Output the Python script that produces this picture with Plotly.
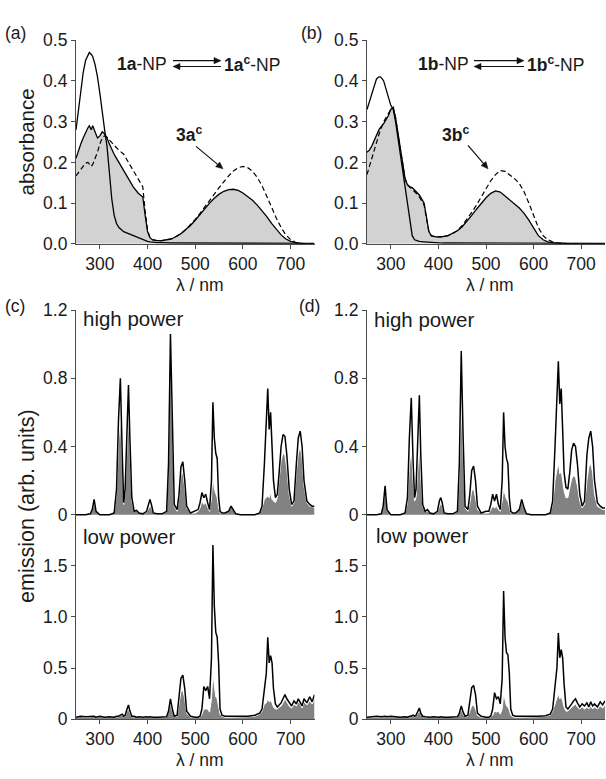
import math
import plotly.graph_objects as go

W, H = 606, 779

# ---------------- absorbance data ----------------
ab_nm = [250, 255, 260, 265, 270, 275, 278, 282, 285, 290, 295, 300, 305, 310, 315, 320, 325, 330, 335, 340,
         345, 350, 360, 370, 380, 385, 390, 395, 400, 405, 410, 420, 430, 440, 450, 460, 470, 480, 490, 500,
         510, 520, 530, 540, 550, 560, 570, 580, 590, 600, 610, 620, 630, 640, 650, 660, 670, 680, 690, 700,
         710, 720, 730, 740, 750]

a_open = [0.28, 0.33, 0.38, 0.42, 0.45, 0.465, 0.47, 0.465, 0.46, 0.44, 0.41, 0.37, 0.32, 0.28, 0.24, 0.18, 0.11, 0.07, 0.05, 0.04,
          0.035, 0.03, 0.025, 0.02, 0.015, 0.012, 0.01, 0.008, 0.006, 0.005, 0.004, 0.003, 0.003, 0.002, 0.002, 0.002, 0.002, 0.002, 0.002, 0.002,
          0.002, 0.002, 0.002, 0.002, 0.002, 0.002, 0.002, 0.002, 0.002, 0.002, 0.002, 0.002, 0.002, 0.002, 0.001, 0.001, 0.001, 0.001, 0.001, 0.001,
          0.001, 0.001, 0.001, 0.001, 0.001]
a_closed = [0.21, 0.23, 0.245, 0.26, 0.275, 0.285, 0.29, 0.28, 0.29, 0.275, 0.26, 0.265, 0.275, 0.27, 0.26, 0.245, 0.23, 0.22, 0.21, 0.2,
            0.19, 0.18, 0.16, 0.14, 0.125, 0.12, 0.115, 0.07, 0.03, 0.015, 0.01, 0.008, 0.008, 0.01, 0.012, 0.018, 0.025, 0.035, 0.045, 0.058,
            0.072, 0.087, 0.1, 0.112, 0.122, 0.129, 0.133, 0.134, 0.131, 0.125, 0.117, 0.107, 0.095, 0.082, 0.067, 0.05, 0.035, 0.022, 0.012, 0.006,
            0.003, 0.001, 0.0, 0.0, 0.0]
a_ref = [0.167, 0.175, 0.183, 0.19, 0.198, 0.2, 0.195, 0.19, 0.195, 0.21, 0.225, 0.245, 0.26, 0.265, 0.262, 0.255, 0.248, 0.242, 0.236, 0.23,
         0.225, 0.22, 0.2, 0.18, 0.16, 0.15, 0.14, 0.08, 0.035, 0.015, 0.01, 0.008, 0.008, 0.01, 0.012, 0.018, 0.025, 0.035, 0.047, 0.06,
         0.075, 0.09, 0.106, 0.122, 0.138, 0.153, 0.167, 0.179, 0.187, 0.19, 0.187, 0.178, 0.163, 0.143, 0.118, 0.09, 0.063, 0.04, 0.022, 0.01,
         0.004, 0.001, 0.0, 0.0, 0.0]

b_open = [0.33, 0.35, 0.37, 0.39, 0.405, 0.41, 0.41, 0.405, 0.4, 0.38, 0.36, 0.34, 0.33, 0.3, 0.26, 0.22, 0.18, 0.15, 0.11, 0.06,
          0.02, 0.01, 0.006, 0.005, 0.004, 0.003, 0.003, 0.003, 0.002, 0.002, 0.002, 0.002, 0.002, 0.002, 0.002, 0.002, 0.002, 0.002, 0.002, 0.002,
          0.002, 0.002, 0.002, 0.002, 0.002, 0.002, 0.002, 0.002, 0.002, 0.002, 0.002, 0.002, 0.002, 0.002, 0.001, 0.001, 0.001, 0.001, 0.001, 0.001,
          0.001, 0.001, 0.001, 0.001, 0.001]
b_closed = [0.225, 0.23, 0.24, 0.255, 0.27, 0.28, 0.285, 0.29, 0.295, 0.305, 0.315, 0.33, 0.335, 0.31, 0.27, 0.23, 0.19, 0.16, 0.145, 0.14,
            0.138, 0.132, 0.12, 0.1, 0.03, 0.02, 0.018, 0.017, 0.017, 0.017, 0.018, 0.02, 0.025, 0.032, 0.042, 0.055, 0.07, 0.085, 0.1, 0.113,
            0.124, 0.13, 0.127, 0.118, 0.108, 0.098, 0.088, 0.075, 0.058, 0.038, 0.02, 0.01, 0.005, 0.003, 0.002, 0.001, 0.001, 0.0, 0.0, 0.0,
            0.0, 0.0, 0.0, 0.0, 0.0]
b_ref = [0.17, 0.19, 0.21, 0.23, 0.25, 0.27, 0.28, 0.29, 0.3, 0.31, 0.32, 0.33, 0.335, 0.31, 0.27, 0.23, 0.19, 0.16, 0.145, 0.14,
         0.135, 0.128, 0.115, 0.095, 0.03, 0.02, 0.018, 0.017, 0.017, 0.017, 0.018, 0.02, 0.025, 0.033, 0.045, 0.06, 0.077, 0.095, 0.115, 0.135,
         0.155, 0.17, 0.18, 0.178, 0.17, 0.16, 0.148, 0.128, 0.1, 0.068, 0.04, 0.02, 0.01, 0.005, 0.002, 0.001, 0.0, 0.0, 0.0, 0.0,
         0.0, 0.0, 0.0, 0.0, 0.0]

# ---------------- emission data ----------------
em_nm = [250, 260, 270, 280, 284, 288, 292, 300, 310, 320,
         330, 335, 339, 343, 347, 350, 353, 357, 360, 363,
         367, 372, 377, 382, 390, 398, 402, 405, 408, 412,
         420, 430, 440, 444, 448, 452, 456, 462, 466, 470,
         474, 478, 482, 490, 500, 506, 510, 514, 518, 522,
         526, 530, 534, 537, 540, 543, 546, 549, 552, 556,
         562, 570, 575, 580, 585, 595, 610, 625, 635, 640,
         645, 649, 652, 655, 658, 661, 664, 668, 672, 676,
         680, 684, 688, 692, 697, 702, 707, 712, 716, 720,
         724, 728, 734, 740, 745, 750]

c_high_line = [0.0, 0.0, 0.0, 0.005, 0.03, 0.09, 0.02, 0.0, 0.0, 0.0,
               0.01, 0.15, 0.55, 0.80, 0.35, 0.07, 0.15, 0.55, 0.76, 0.45,
               0.1, 0.02, 0.025, 0.01, 0.005, 0.02, 0.07, 0.09, 0.06, 0.01,
               0.005, 0.005, 0.02, 0.3, 1.06, 0.5, 0.06, 0.03, 0.12, 0.28,
               0.31, 0.2, 0.05, 0.01, 0.02, 0.03, 0.07, 0.13, 0.1, 0.12,
               0.07, 0.03, 0.2, 0.66, 0.45, 0.36, 0.33, 0.1, 0.02, 0.01,
               0.01, 0.02, 0.05, 0.03, 0.005, 0.0, 0.0, 0.0, 0.01, 0.05,
               0.3, 0.55, 0.74, 0.5, 0.6, 0.4, 0.2, 0.1, 0.12, 0.25,
               0.4, 0.47, 0.46, 0.35, 0.15, 0.06, 0.08, 0.3, 0.45, 0.49,
               0.4, 0.2, 0.08, 0.06, 0.05, 0.05]
c_high_fill = [0.0, 0.0, 0.0, 0.005, 0.03, 0.08, 0.02, 0.0, 0.0, 0.0,
               0.01, 0.12, 0.42, 0.58, 0.3, 0.06, 0.13, 0.45, 0.6, 0.38,
               0.08, 0.02, 0.02, 0.01, 0.005, 0.015, 0.04, 0.05, 0.04, 0.01,
               0.005, 0.005, 0.02, 0.28, 0.98, 0.45, 0.05, 0.02, 0.1, 0.23,
               0.25, 0.16, 0.04, 0.01, 0.01, 0.02, 0.04, 0.08, 0.06, 0.07,
               0.04, 0.02, 0.1, 0.23, 0.15, 0.12, 0.1, 0.04, 0.01, 0.01,
               0.01, 0.02, 0.045, 0.03, 0.005, 0.0, 0.0, 0.0, 0.01, 0.04,
               0.09, 0.1, 0.11, 0.1, 0.13, 0.09, 0.08, 0.07, 0.1, 0.2,
               0.32, 0.36, 0.35, 0.27, 0.12, 0.05, 0.07, 0.25, 0.36, 0.4,
               0.33, 0.17, 0.07, 0.05, 0.05, 0.04]
c_low_line = [0.02, 0.03, 0.025, 0.03, 0.025, 0.03, 0.02, 0.03, 0.02, 0.025,
              0.02, 0.03, 0.03, 0.04, 0.05, 0.03, 0.04, 0.1, 0.14, 0.08,
              0.03, 0.03, 0.02, 0.025, 0.02, 0.025, 0.02, 0.025, 0.02, 0.02,
              0.02, 0.02, 0.025, 0.08, 0.2, 0.1, 0.03, 0.04, 0.2, 0.4,
              0.43, 0.3, 0.08, 0.03, 0.02, 0.02, 0.03, 0.1, 0.32, 0.28,
              0.32, 0.2, 0.6, 1.7, 1.1, 0.85, 0.8, 0.55, 0.1, 0.04,
              0.03, 0.03, 0.03, 0.025, 0.03, 0.025, 0.03, 0.04, 0.06, 0.1,
              0.3, 0.45, 0.8, 0.55, 0.62, 0.55, 0.3, 0.15, 0.12, 0.14,
              0.16, 0.2, 0.24, 0.2, 0.16, 0.13, 0.18, 0.15, 0.2, 0.17,
              0.13, 0.2, 0.16, 0.22, 0.17, 0.24]
c_low_fill = [0.02, 0.025, 0.02, 0.025, 0.02, 0.025, 0.02, 0.025, 0.02, 0.02,
              0.02, 0.025, 0.025, 0.035, 0.04, 0.025, 0.03, 0.08, 0.1, 0.06,
              0.025, 0.025, 0.02, 0.02, 0.02, 0.02, 0.02, 0.02, 0.02, 0.02,
              0.02, 0.02, 0.02, 0.07, 0.16, 0.08, 0.03, 0.03, 0.15, 0.27,
              0.28, 0.2, 0.06, 0.02, 0.02, 0.02, 0.02, 0.05, 0.1, 0.1,
              0.1, 0.07, 0.2, 0.45, 0.3, 0.22, 0.2, 0.14, 0.05, 0.03,
              0.02, 0.02, 0.02, 0.02, 0.02, 0.02, 0.025, 0.03, 0.05, 0.08,
              0.15, 0.16, 0.2, 0.17, 0.18, 0.16, 0.12, 0.1, 0.1, 0.12,
              0.13, 0.16, 0.2, 0.17, 0.13, 0.11, 0.15, 0.13, 0.17, 0.15,
              0.11, 0.17, 0.14, 0.18, 0.15, 0.2]
d_high_line = [0.0, 0.0, 0.0, 0.005, 0.05, 0.17, 0.03, 0.0, 0.0, 0.0,
               0.01, 0.1, 0.45, 0.685, 0.3, 0.1, 0.15, 0.5, 0.7, 0.35,
               0.06, 0.02, 0.03, 0.01, 0.005, 0.02, 0.08, 0.1, 0.07, 0.01,
               0.005, 0.005, 0.02, 0.3, 0.96, 0.45, 0.05, 0.03, 0.12, 0.26,
               0.285, 0.2, 0.05, 0.01, 0.02, 0.02, 0.06, 0.12, 0.08, 0.12,
               0.06, 0.03, 0.2, 0.6, 0.4, 0.33, 0.3, 0.1, 0.02, 0.01,
               0.01, 0.03, 0.09, 0.04, 0.005, 0.0, 0.0, 0.0, 0.01, 0.08,
               0.4, 0.7, 0.9, 0.65, 0.74, 0.5, 0.25, 0.16, 0.15, 0.25,
               0.38, 0.42, 0.4, 0.3, 0.12, 0.05, 0.08, 0.35, 0.45, 0.49,
               0.4, 0.2, 0.07, 0.05, 0.04, 0.04]
d_high_fill = [0.0, 0.0, 0.0, 0.005, 0.05, 0.16, 0.03, 0.0, 0.0, 0.0,
               0.01, 0.07, 0.28, 0.39, 0.2, 0.08, 0.1, 0.32, 0.42, 0.22,
               0.05, 0.02, 0.02, 0.01, 0.005, 0.015, 0.05, 0.07, 0.05, 0.01,
               0.005, 0.005, 0.02, 0.22, 0.65, 0.3, 0.04, 0.02, 0.07, 0.14,
               0.15, 0.1, 0.03, 0.01, 0.01, 0.01, 0.03, 0.05, 0.04, 0.05,
               0.03, 0.02, 0.08, 0.15, 0.12, 0.09, 0.08, 0.04, 0.01, 0.01,
               0.01, 0.03, 0.085, 0.04, 0.005, 0.0, 0.0, 0.0, 0.01, 0.06,
               0.2, 0.28, 0.31, 0.24, 0.26, 0.2, 0.14, 0.1, 0.1, 0.16,
               0.21, 0.23, 0.22, 0.17, 0.08, 0.04, 0.06, 0.2, 0.28, 0.3,
               0.25, 0.12, 0.05, 0.04, 0.03, 0.03]
d_low_line = [0.02, 0.025, 0.03, 0.025, 0.03, 0.03, 0.025, 0.03, 0.025, 0.02,
              0.025, 0.02, 0.03, 0.03, 0.04, 0.03, 0.04, 0.08, 0.11, 0.06,
              0.03, 0.025, 0.02, 0.02, 0.025, 0.02, 0.02, 0.025, 0.02, 0.02,
              0.02, 0.02, 0.025, 0.06, 0.13, 0.07, 0.03, 0.04, 0.16, 0.31,
              0.33, 0.24, 0.06, 0.03, 0.02, 0.02, 0.03, 0.1, 0.26, 0.2,
              0.22, 0.15, 0.4, 1.25, 0.8, 0.65, 0.63, 0.45, 0.1, 0.04,
              0.03, 0.03, 0.03, 0.025, 0.03, 0.025, 0.03, 0.035, 0.05, 0.1,
              0.3, 0.5, 0.84, 0.6, 0.68, 0.6, 0.35, 0.12, 0.1, 0.12,
              0.15, 0.18, 0.2, 0.16, 0.12, 0.15, 0.13, 0.16, 0.12, 0.17,
              0.13, 0.15, 0.12, 0.17, 0.14, 0.18]
d_low_fill = [0.02, 0.02, 0.025, 0.02, 0.025, 0.025, 0.02, 0.025, 0.02, 0.02,
              0.02, 0.02, 0.025, 0.025, 0.03, 0.025, 0.03, 0.06, 0.08, 0.05,
              0.025, 0.02, 0.02, 0.02, 0.02, 0.02, 0.02, 0.02, 0.02, 0.02,
              0.02, 0.02, 0.02, 0.05, 0.1, 0.05, 0.025, 0.03, 0.08, 0.13,
              0.14, 0.1, 0.04, 0.02, 0.02, 0.02, 0.02, 0.04, 0.08, 0.07,
              0.08, 0.05, 0.1, 0.25, 0.18, 0.13, 0.12, 0.09, 0.04, 0.025,
              0.02, 0.02, 0.02, 0.02, 0.02, 0.02, 0.025, 0.03, 0.04, 0.08,
              0.15, 0.2, 0.25, 0.2, 0.22, 0.18, 0.12, 0.08, 0.08, 0.1,
              0.12, 0.14, 0.15, 0.12, 0.1, 0.12, 0.1, 0.12, 0.1, 0.13,
              0.1, 0.12, 0.1, 0.13, 0.11, 0.14]

x_ticks = [300, 400, 500, 600, 700]
abs_ticks = [0.0, 0.1, 0.2, 0.3, 0.4, 0.5]
abs_ticktext = ["0.0", "0.1", "0.2", "0.3", "0.4", "0.5"]
high_ticks = [0, 0.4, 0.8, 1.2]
high_ticktext = ["0", "0.4", "0.8", "1.2"]
low_ticks = [0, 0.5, 1.0, 1.5]
low_ticktext = ["0", "0.5", "1.0", "1.5"]

# ---------------- styling ----------------
FONT = "Liberation Sans, Arial, sans-serif"
AX = "#4a4a4a"
TXT = "#1a1a1a"
ABS_FILL = "#d2d2d2"
EM_FILL = "#828282"
TF = 17.5


def xd(p):
    return p / W


def yd(p):
    return 1 - p / H


fig = go.Figure()

# absorbance panels
for ax_i, (op, cl, rf) in zip([1, 2], [(a_open, a_closed, a_ref), (b_open, b_closed, b_ref)]):
    xa = "x" if ax_i == 1 else f"x{ax_i}"
    ya = "y" if ax_i == 1 else f"y{ax_i}"
    fig.add_trace(go.Scatter(x=ab_nm, y=cl, mode="lines", line=dict(color="black", width=1.3),
                             fill="tozeroy", fillcolor=ABS_FILL, xaxis=xa, yaxis=ya, showlegend=False))
    fig.add_trace(go.Scatter(x=ab_nm, y=op, mode="lines", line=dict(color="black", width=1.3),
                             xaxis=xa, yaxis=ya, showlegend=False))
    fig.add_trace(go.Scatter(x=ab_nm, y=rf, mode="lines", line=dict(color="black", width=1.2, dash="5px,3px"),
                             xaxis=xa, yaxis=ya, showlegend=False))

# emission panels
for ax_i, (ln, fl) in zip([3, 4, 5, 6], [(c_high_line, c_high_fill), (c_low_line, c_low_fill),
                                         (d_high_line, d_high_fill), (d_low_line, d_low_fill)]):
    xa, ya = f"x{ax_i}", f"y{ax_i}"
    fig.add_trace(go.Scatter(x=em_nm, y=fl, mode="lines", line=dict(color="white", width=1),
                             fill="tozeroy", fillcolor=EM_FILL, xaxis=xa, yaxis=ya, showlegend=False))
    fig.add_trace(go.Scatter(x=em_nm, y=ln, mode="lines", line=dict(color="black", width=1.5),
                             xaxis=xa, yaxis=ya, showlegend=False))

common_x = dict(range=[250, 750], showgrid=False, zeroline=False, showline=True, linecolor=AX, linewidth=1.2,
                ticks="outside", ticklen=4, tickcolor=AX, tickvals=x_ticks,
                tickfont=dict(family=FONT, size=TF, color=TXT))
common_y = dict(showgrid=False, zeroline=False, showline=True, linecolor=AX, linewidth=1.2,
                ticks="outside", ticklen=4, tickcolor=AX, tickfont=dict(family=FONT, size=TF, color=TXT))

xl = [xd(76), xd(314.5)]
xr = [xd(367), xd(605)]
abs_dom = [yd(240), yd(31)]
high_dom = [yd(519.75), yd(308)]
low_dom = [yd(728), yd(517.4)]

layout = dict(
    width=W, height=H, margin=dict(l=0, r=0, t=0, b=0),
    paper_bgcolor="white", plot_bgcolor="rgba(0,0,0,0)",
    font=dict(family=FONT, color=TXT),
    xaxis=dict(common_x, domain=xl, anchor="y"),
    yaxis=dict(common_y, domain=abs_dom, anchor="x", range=[0, 0.5], tickvals=abs_ticks, ticktext=abs_ticktext),
    xaxis2=dict(common_x, domain=xr, anchor="y2"),
    yaxis2=dict(common_y, domain=abs_dom, anchor="x2", range=[0, 0.5], tickvals=abs_ticks, ticktext=abs_ticktext),
    xaxis3=dict(common_x, domain=xl, anchor="y3", visible=False),
    yaxis3=dict(common_y, domain=high_dom, anchor="x3", range=[-0.01, 1.2], tickvals=high_ticks, ticktext=high_ticktext),
    xaxis4=dict(common_x, domain=xl, anchor="y4"),
    yaxis4=dict(common_y, domain=low_dom, anchor="x4", range=[0, 2.0], tickvals=low_ticks, ticktext=low_ticktext),
    xaxis5=dict(common_x, domain=xr, anchor="y5", visible=False),
    yaxis5=dict(common_y, domain=high_dom, anchor="x5", range=[-0.01, 1.2], tickvals=high_ticks, ticktext=high_ticktext),
    xaxis6=dict(common_x, domain=xr, anchor="y6"),
    yaxis6=dict(common_y, domain=low_dom, anchor="x6", range=[0, 2.0], tickvals=low_ticks, ticktext=low_ticktext),
)
fig.update_layout(**layout)


def text(t, x, y, size=TF, xanchor="center", yanchor="middle", angle=0):
    fig.add_annotation(text=t, x=xd(x), y=yd(y), xref="paper", yref="paper", showarrow=False,
                       xanchor=xanchor, yanchor=yanchor, textangle=angle,
                       font=dict(family=FONT, size=size, color=TXT))


def arrow(x_head, y_head, x_tail, y_tail, hl=7.0, hw=3.2, width=1.2):
    dx, dy = x_head - x_tail, y_head - y_tail
    n = math.hypot(dx, dy)
    ux, uy = dx / n, dy / n
    bx, by = x_head - ux * hl, y_head - uy * hl
    px_, py_ = -uy * hw, ux * hw
    fig.add_shape(type="line", xref="paper", yref="paper",
                  x0=xd(x_tail), y0=yd(y_tail), x1=xd(bx + ux * 1.5), y1=yd(by + uy * 1.5),
                  line=dict(color="#111", width=width))
    path = (f"M {xd(x_head)},{yd(y_head)} L {xd(bx + px_)},{yd(by + py_)} "
            f"L {xd(bx - px_)},{yd(by - py_)} Z")
    fig.add_shape(type="path", xref="paper", yref="paper", path=path,
                  fillcolor="#111", line=dict(color="#111", width=0.5))


# panel labels
text("(a)", 3, 24, xanchor="left")
text("(b)", 299, 24, xanchor="left")
text("(c)", 3, 304, xanchor="left")
text("(d)", 297, 304, xanchor="left")

# axis titles
text("absorbance", 27, 136, size=20.5, angle=-90)
text("emission (arb. units)", 27, 509, size=21.5, angle=-90)
text("λ / nm", 200, 282, size=TF)
text("λ / nm", 490, 282, size=TF)
text("λ / nm", 200, 770, size=TF)
text("λ / nm", 490, 770, size=TF)

# power labels
text("high power", 81, 317, size=20.5, xanchor="left")
text("low power", 81, 540, size=20.5, xanchor="left")
text("high power", 372, 318, size=20.5, xanchor="left")
text("low power", 374, 539, size=20.5, xanchor="left")

# equilibrium schemes
text("<b>1a</b>-NP", 169, 55, xanchor="right")
text("<b>1a<sup>c</sup></b>-NP", 222, 55, xanchor="left")
arrow(221, 52, 173, 52)
arrow(173, 58, 221, 58)

text("<b>1b</b>-NP", 471, 55, xanchor="right")
text("<b>1b<sup>c</sup></b>-NP", 525, 55, xanchor="left")
arrow(524, 52, 474, 52)
arrow(474, 58, 524, 58)

# compound labels with arrows
text("<b>3a<sup>c</sup></b>", 189, 127)
arrow(223, 163, 196, 140)
text("<b>3b<sup>c</sup></b>", 455, 127)
arrow(488, 163, 468, 139)

fig.write_html("out.html", config=dict(displayModeBar=False),
               post_script="document.body.style.margin='0';document.body.style.padding='0';"
                           "document.body.style.overflow='hidden';")
